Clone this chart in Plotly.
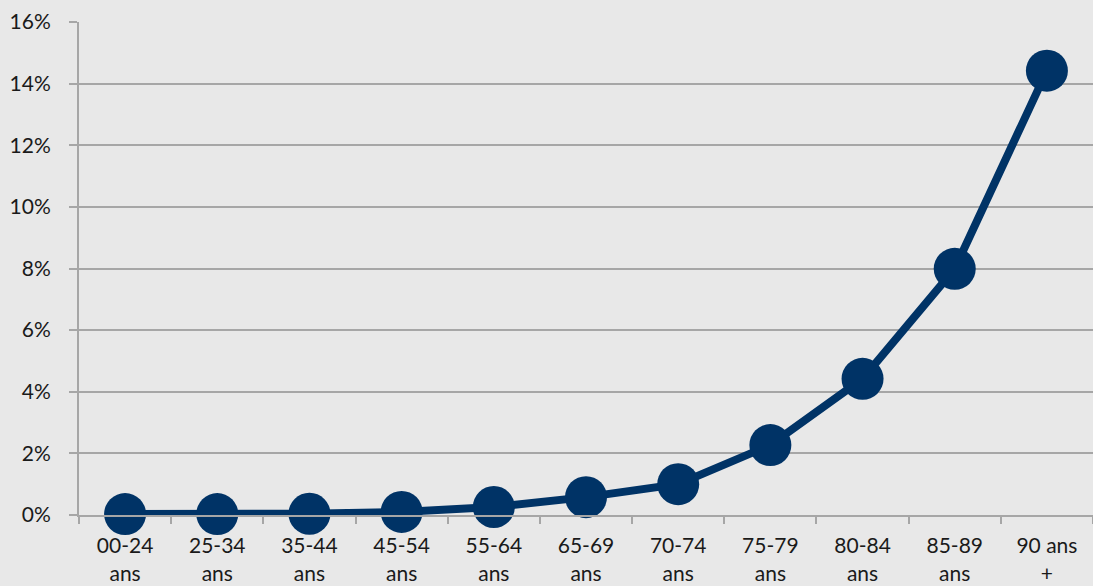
import plotly.graph_objects as go

categories = ["00-24<br>ans", "25-34<br>ans", "35-44<br>ans", "45-54<br>ans", "55-64<br>ans",
              "65-69<br>ans", "70-74<br>ans", "75-79<br>ans", "80-84<br>ans", "85-89<br>ans",
              "90 ans<br>+"]
values = [0.0003, 0.0003, 0.0004, 0.0010, 0.0026, 0.0058, 0.0100, 0.0227, 0.0442, 0.0799, 0.1442]
y_ticks = [0, 0.02, 0.04, 0.06, 0.08, 0.10, 0.12, 0.14, 0.16]

navy = "#003366"
grid = "#a6a6a6"
bg = "#e8e8e8"

fig = go.Figure()
fig.add_trace(go.Scatter(
    x=categories, y=values, mode="lines+markers",
    line=dict(color=navy, width=8),
    marker=dict(color=navy, size=42, line=dict(width=0)),
    cliponaxis=False, showlegend=False,
))

fig.update_layout(
    width=1093, height=586,
    paper_bgcolor=bg, plot_bgcolor=bg,
    margin=dict(l=79, r=0, t=22, b=71),
    font=dict(family="Lato, sans-serif", size=21, color="#1a1a1a"),
    xaxis=dict(
        type="category", tickson="boundaries", ticks="outside", ticklen=7,
        tickcolor=grid, tickwidth=2, showline=True, linecolor=grid, linewidth=2,
        showgrid=False, range=[-0.5, 10.5], ticklabelstandoff=11,
    ),
    yaxis=dict(
        range=[0, 0.16], tickvals=y_ticks, tickformat=".0%",
        showgrid=True, gridcolor=grid, gridwidth=2,
        ticks="outside", ticklen=8, tickcolor=grid, tickwidth=2,
        showline=True, linecolor=grid, linewidth=2, zeroline=False,
        ticklabelstandoff=14,
    ),
)

fig.write_html(
    "out.html",
    config={"displayModeBar": False},
    post_script="document.body.style.margin='0';document.body.style.background='#e8e8e8';",
)
